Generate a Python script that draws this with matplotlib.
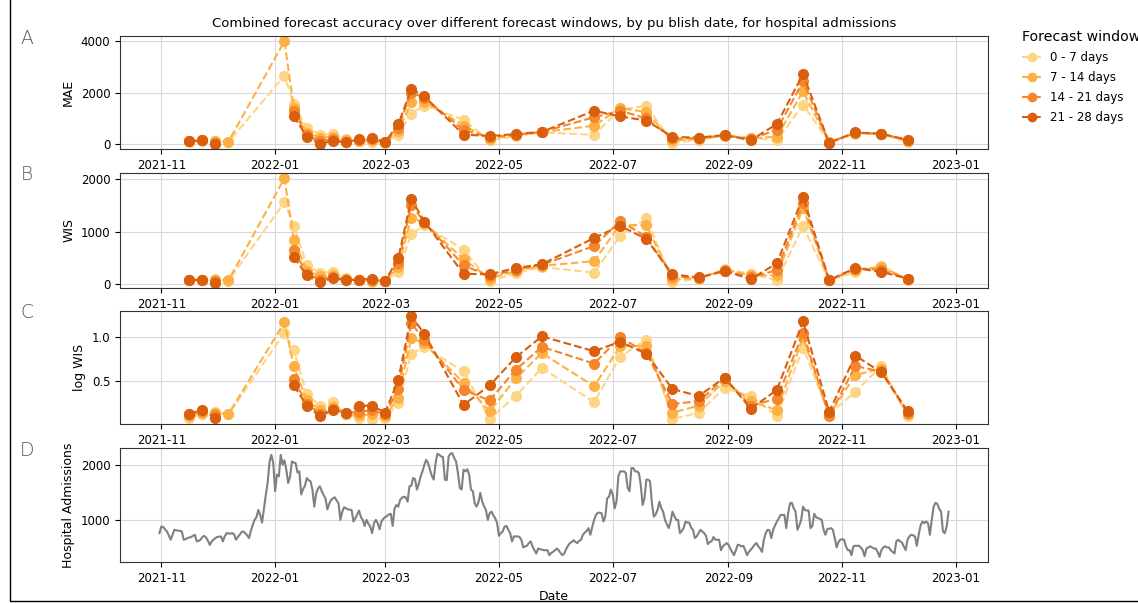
import numpy as np
import pandas as pd
import matplotlib
matplotlib.use("Agg")
import matplotlib.pyplot as plt
from matplotlib.lines import Line2D
from matplotlib.patches import Rectangle

# Publish dates of the combined forecasts
publish_dates = [
    "2021-11-16", "2021-11-23", "2021-11-30", "2021-12-07", "2022-01-06",
    "2022-01-11", "2022-01-18", "2022-01-25", "2022-02-01", "2022-02-08",
    "2022-02-15", "2022-02-22", "2022-03-01", "2022-03-08", "2022-03-15",
    "2022-03-22", "2022-04-12", "2022-04-26", "2022-05-10", "2022-05-24",
    "2022-06-21", "2022-07-05", "2022-07-19", "2022-08-02", "2022-08-16",
    "2022-08-30", "2022-09-13", "2022-09-27", "2022-10-11", "2022-10-25",
    "2022-11-08", "2022-11-22", "2022-12-06",
]

windows = ["0 - 7 days", "7 - 14 days", "14 - 21 days", "21 - 28 days"]
nan = np.nan

# Mean absolute error per forecast window
mae_0_7 = [110, 140, 140, 100, 2650, 1550, 620, 380, 400, 200, 120, 100, 70, 380, 1190, 1500,
           950, 150, 320, 460, 370, 1350, 1480, 60, 170, 330, 260, 150, 1530, 100, 420, 400, 100]
mae_7_14 = [120, 150, 130, 110, 3985, 1420, 450, 250, 300, 150, 140, 150, 80, 500, 1620, 1650,
            720, 220, 350, 470, 720, 1400, 1250, 150, 210, 340, 230, 300, 2045, 80, 440, 410, 130]
mae_14_21 = [115, 150, 60, nan, nan, 1280, 350, 120, 200, 100, 160, 200, 90, 650, 2000, 1800,
             550, 270, 380, 480, 1050, 1300, 1000, 230, 240, 350, 200, 570, 2430, 70, 450, 410, 160]
mae_21_28 = [120, 150, 20, nan, nan, 1100, 280, 30, 120, 80, 200, 240, 100, 770, 2150, 1850,
             380, 320, 400, 480, 1300, 1080, 920, 290, 260, 360, 160, 790, 2710, 60, 460, 410, 180]

# Weighted interval score per forecast window
wis_0_7 = [75, 80, 110, 70, 1555, 1110, 360, 220, 235, 120, 80, 50, 60, 240, 950, 1120,
           655, 60, 210, 330, 220, 920, 1250, 50, 100, 290, 200, 80, 1100, 75, 230, 350, 90]
wis_7_14 = [80, 80, 90, 75, 2010, 845, 260, 150, 180, 100, 80, 70, 60, 320, 1265, 1160,
            475, 110, 250, 350, 440, 1130, 1120, 100, 115, 280, 170, 170, 1450, 75, 280, 330, 100]
wis_14_21 = [80, 85, 60, nan, nan, 655, 200, 90, 140, 85, 85, 90, 65, 400, 1505, 1180,
             360, 150, 280, 370, 725, 1200, 900, 150, 125, 260, 130, 270, 1550, 75, 300, 280, 105]
wis_21_28 = [80, 85, 30, nan, nan, 520, 170, 45, 120, 75, 90, 110, 65, 490, 1615, 1190,
             200, 190, 310, 380, 880, 1105, 860, 190, 130, 250, 100, 400, 1660, 80, 310, 235, 110]

# Weighted interval score on the log scale per forecast window
logwis_0_7 = [0.08, 0.12, 0.15, 0.12, 1.05, 0.85, 0.35, 0.22, 0.26, 0.12, 0.08, 0.07, 0.08, 0.25,
              0.81, 0.89, 0.61, 0.07, 0.33, 0.65, 0.26, 0.78, 0.97, 0.07, 0.14, 0.42, 0.33, 0.10,
              0.88, 0.12, 0.38, 0.67, 0.10]
logwis_7_14 = [0.10, 0.14, 0.14, 0.125, 1.17, 0.67, 0.28, 0.17, 0.21, 0.13, 0.11, 0.12, 0.10, 0.31,
               0.99, 0.93, 0.48, 0.155, 0.53, 0.82, 0.44, 0.90, 0.90, 0.14, 0.22, 0.50, 0.27, 0.17,
               1.00, 0.11, 0.57, 0.64, 0.12]
logwis_14_21 = [0.12, 0.16, 0.11, nan, nan, 0.52, 0.24, 0.13, 0.18, 0.14, 0.15, 0.17, 0.12, 0.41,
                1.16, 0.97, 0.40, 0.28, 0.63, 0.89, 0.70, 1.00, 0.82, 0.24, 0.27, 0.53, 0.22, 0.30,
                1.05, 0.10, 0.67, 0.61, 0.14]
logwis_21_28 = [0.13, 0.17, 0.08, nan, nan, 0.45, 0.22, 0.10, 0.17, 0.14, 0.22, 0.22, 0.14, 0.515,
                1.24, 1.04, 0.23, 0.45, 0.77, 1.01, 0.84, 0.95, 0.81, 0.41, 0.33, 0.54, 0.185, 0.40,
                1.18, 0.15, 0.79, 0.60, 0.16]

# Daily hospital admissions from 2021-10-31
admissions_start = "2021-10-31"
admissions = [
    760, 880, 870, 830, 790, 720, 640,
    730, 820, 810, 805, 800, 790, 640,
    650, 670, 680, 690, 710, 730, 610,
    620, 640, 690, 710, 680, 620, 545,
    610, 640, 670, 690, 695, 700, 610,
    700, 760, 755, 750, 760, 740, 640,
    690, 730, 780, 790, 760, 720, 670,
    800, 910, 1000, 1050, 1180, 1090, 950,
    1200, 1450, 1670, 2050, 2180, 2030, 1520,
    1820, 1790, 2180, 2000, 2080, 1910, 1670,
    1780, 2060, 2040, 2030, 1860, 1880, 1460,
    1560, 1620, 1760, 1720, 1700, 1550, 1240,
    1480, 1570, 1610, 1520, 1450, 1390, 1190,
    1290, 1360, 1390, 1410, 1350, 1300, 1000,
    1150, 1230, 1210, 1190, 1185, 1180, 970,
    1030, 1100, 1170, 1050, 1000, 890, 1000,
    930, 880, 760, 940, 1000, 940, 830,
    970, 1020, 1050, 1070, 1100, 1110, 890,
    1200, 1270, 1240, 1360, 1400, 1420, 1410,
    1330, 1610, 1620, 1760, 1740, 1550, 1650,
    1790, 1880, 2000, 2090, 2030, 1910, 1800,
    1730, 2020, 2200, 2180, 2150, 2140, 1730,
    1720, 2150, 2200, 2210, 2120, 2060, 1850,
    1580, 1550, 1910, 1880, 1920, 1820, 1550,
    1520, 1300, 1240, 1320, 1490, 1330, 1250,
    1180, 1000, 1120, 1150, 1080, 1030, 940,
    710, 760, 790, 880, 890, 820, 760,
    610, 700, 700, 700, 690, 640, 500,
    520, 530, 580, 610, 520, 450, 390,
    480, 470, 460, 450, 450, 450, 360,
    400, 420, 450, 480, 450, 400, 360,
    390, 470, 530, 580, 600, 630, 600,
    580, 620, 640, 730, 770, 800, 850,
    730, 870, 1000, 1090, 1130, 1130, 1120,
    970, 1060, 1390, 1420, 1550, 1460, 1210,
    1330, 1790, 1880, 1880, 1880, 1850, 1580,
    1520, 1940, 1940, 1880, 1880, 1850, 1640,
    1270, 1390, 1730, 1730, 1700, 1300, 1060,
    1100, 1180, 1330, 1210, 1150, 1000, 920,
    850, 970, 1150, 1070, 1000, 1000, 760,
    800, 850, 970, 950, 950, 860, 820,
    670, 700, 760, 820, 790, 760, 710,
    560, 600, 610, 690, 640, 640, 640,
    450, 520, 550, 580, 550, 480, 420,
    360, 450, 550, 540, 520, 530, 450,
    360, 420, 460, 500, 550, 580, 520,
    480, 420, 640, 760, 820, 810, 670,
    820, 900, 970, 1030, 1090, 1090, 1090,
    850, 1120, 1300, 1310, 1210, 1150, 820,
    900, 1000, 1240, 1180, 1170, 1170, 850,
    890, 1110, 1050, 1030, 1020, 1000, 820,
    730, 830, 840, 850, 820, 670, 500,
    600, 640, 650, 640, 520, 450, 450,
    360, 520, 530, 530, 530, 500, 450,
    340, 480, 500, 520, 500, 480, 480,
    420, 330, 450, 500, 520, 500, 500,
    450, 420, 390, 610, 640, 610, 590,
    520, 450, 640, 700, 730, 720, 700,
    530, 730, 900, 970, 940, 970, 940,
    730, 1000, 1240, 1310, 1290, 1200, 1150,
    790, 760, 880, 1150,
]

colors = ["#fed584", "#fdb144", "#f5862b", "#d95f0e"]

plt.rcParams["font.family"] = ["DejaVu Sans"]

W, H = 1138, 603
fig = plt.figure(figsize=(W / 100, H / 100), dpi=100)
fig.patch.set_facecolor("white")

# Panel geometry in pixels: (top, bottom)
left_px, right_px = 120, 988
panels_px = [(36, 149), (173, 288), (311, 424), (448, 562)]
axes = []
for i, (top, bot) in enumerate(panels_px):
    rect = [left_px / W, 1 - bot / H, (right_px - left_px) / W, (bot - top) / H]
    ax = fig.add_axes(rect, sharex=axes[0] if axes else None)
    axes.append(ax)

pdates = pd.to_datetime(publish_dates)
metric_sets = [
    ("MAE", [mae_0_7, mae_7_14, mae_14_21, mae_21_28]),
    ("WIS", [wis_0_7, wis_7_14, wis_14_21, wis_21_28]),
    ("log WIS", [logwis_0_7, logwis_7_14, logwis_14_21, logwis_21_28]),
]

for ax, (label, series) in zip(axes[:3], metric_sets):
    for vals, c, name in zip(series, colors, windows):
        ax.plot(pdates, vals, linestyle="--", marker="o", color=c, markersize=7,
                linewidth=1.5, label=name)
    ax.set_ylabel(label, fontsize=9)

adm_dates = pd.date_range(admissions_start, periods=len(admissions), freq="D")
axes[3].plot(adm_dates, admissions, color="grey", linewidth=1.5)
axes[3].set_ylabel("Hospital Admissions", fontsize=9)
axes[3].set_xlabel("Date", fontsize=9)

axes[0].set_yticks([0, 2000, 4000])
axes[1].set_yticks([0, 1000, 2000])
axes[2].set_yticks([0.5, 1.0])
axes[3].set_yticks([1000, 2000])

for ax in axes:
    ax.grid(True, color="#d9d9d9", linewidth=0.8)
    ax.set_axisbelow(True)
    ax.tick_params(labelsize=8.5, labelbottom=True)
    for sp in ax.spines.values():
        sp.set_color("#333333")

fig.text(554 / W, 1 - 23 / H,
         "Combined forecast accuracy over different forecast windows, by pu blish date, for hospital admissions",
         ha="center", va="center", fontsize=9.5)

for letter, ypx in zip("ABCD", [38, 175, 312, 450]):
    fig.text(27 / W, 1 - ypx / H, letter, ha="center", va="center", fontsize=13.5,
             color="#5a5a5a", fontweight="light")

handles = [Line2D([0], [0], color=c, linestyle="--", marker="o", markersize=6, linewidth=1.5)
           for c in colors]
fig.legend(handles, windows, title="Forecast window", loc="upper left",
           bbox_to_anchor=(1011 / W, 1 - 19 / H), frameon=False, fontsize=8.5,
           title_fontsize=10.2, handlelength=1.7, handletextpad=0.7, labelspacing=0.6,
           alignment="left")

fig.add_artist(Rectangle((10 / W, 2 / H), 2, 2, transform=fig.transFigure,
                         fill=False, edgecolor="black", linewidth=1, clip_on=False))

fig.savefig("out.png", dpi=100)
